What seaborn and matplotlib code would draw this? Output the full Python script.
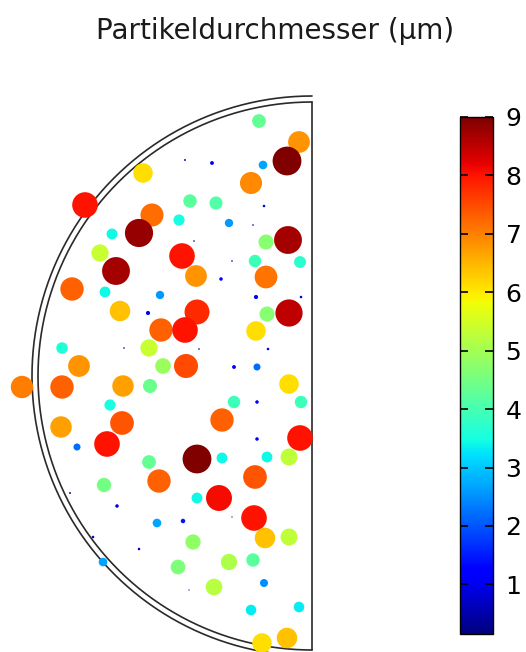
import numpy as np
import pandas as pd
import matplotlib
matplotlib.use('Agg')
import matplotlib.pyplot as plt
import seaborn as sns

# Partikel: Position im Bild (px) und Durchmesser (µm)
px = [143, 85, 152, 112, 139, 100, 116, 259, 299, 185, 212, 263, 287, 251, 190, 216, 264,
      179, 229, 253, 194, 266, 288, 182, 232, 255, 300, 196, 221, 266, 72, 105, 160, 256,
      301, 120, 148, 197, 267, 289, 161, 185, 256, 62, 124, 149, 199, 268, 79, 163, 186,
      234, 257, 22, 62, 123, 150, 289, 110, 234, 257, 301, 61, 122, 222, 77, 107, 257, 300,
      149, 197, 222, 267, 289, 104, 159, 255, 70, 117, 197, 219, 232, 254, 157, 183, 93,
      265, 289, 193, 139, 103, 178, 229, 253, 214, 189, 264, 251, 299, 262, 287]
py = [173, 205, 215, 234, 233, 253, 271, 121, 142, 160, 163, 165, 161, 183, 201, 203, 206,
      220, 223, 225, 241, 242, 240, 256, 261, 261, 262, 276, 279, 277, 289, 292, 295, 297,
      297, 311, 313, 312, 314, 313, 330, 330, 331, 348, 348, 348, 349, 349, 366, 366, 366,
      367, 367, 387, 387, 386, 386, 384, 405, 402, 402, 402, 427, 423, 420, 447, 444, 439, 438,
      462, 459, 458, 457, 457, 485, 481, 477, 493, 506, 498, 498, 517, 518, 523, 521, 537,
      538, 537, 542, 549, 562, 567, 562, 560, 587, 590, 583, 610, 607, 643, 638]
durchmesser = [6.1, 8.0, 7.2, 3.4, 8.8, 5.4, 8.7, 4.3, 6.8, 0.6, 1.2, 2.7, 9.0, 6.9, 4.2, 4.1, 0.8,
               3.5, 2.6, 0.5, 0.5, 4.7, 8.7, 8.0, 0.5, 3.9, 3.7, 6.8, 1.1, 7.1, 7.3, 3.4, 2.6, 1.3,
               0.8, 6.4, 1.3, 7.8, 4.7, 8.5, 7.3, 8.0, 6.1, 3.6, 0.5, 5.4, 0.5, 0.8, 6.8, 4.9, 7.5,
               1.2, 2.2, 7.0, 7.3, 6.7, 4.4, 6.1, 3.5, 3.9, 1.1, 3.9, 6.7, 7.4, 7.3, 2.2, 8.0, 1.1, 8.0,
               4.3, 9.0, 3.4, 3.4, 5.3, 4.5, 7.3, 7.4, 0.6, 1.1, 3.4, 8.1, 0.4, 8.0, 2.7, 1.4, 0.8,
               6.4, 5.3, 4.8, 0.8, 2.7, 4.6, 5.1, 4.2, 5.2, 0.4, 2.5, 3.3, 3.3, 6.1, 6.4]

# Mittelpunkt und Radien des Halbkreises (px)
mitte_x, mitte_y = 312, 376
r_innen, r_aussen = 274, 280
vmin, vmax = 0.15, 9
ticks = [1, 2, 3, 4, 5, 6, 7, 8, 9]

df = pd.DataFrame({'x': np.array(px) - mitte_x,
                   'y': mitte_y - np.array(py),
                   'd': durchmesser})

sns.set_style('white')
plt.rcParams['font.family'] = ['DejaVu Sans']
jet = matplotlib.colormaps['jet']

W, H = 526, 652
fig = plt.figure(figsize=(W / 100, H / 100), dpi=100)
ax = fig.add_axes([0, 0, 330 / W, 567 / H])
ax.set_xlim(-312, 18)
ax.set_ylim(-276, 291)
ax.axis('off')

# Doppelter Rand des Halbkreises
theta = np.linspace(np.pi / 2, 3 * np.pi / 2, 400)
for r in (r_innen, r_aussen):
    ax.plot(r * np.cos(theta), r * np.sin(theta), color='#2a2a2a', lw=1.2, zorder=1)
ax.plot([0, 0], [-r_innen, r_innen], color='#2a2a2a', lw=1.2, zorder=1)

# Partikel: Durchmesser ~ 3.2 px pro µm
groesse = (df['d'] * 3.2 * 0.72) ** 2
sns.scatterplot(data=df, x='x', y='y', hue='d', palette=jet, hue_norm=(vmin, vmax),
                s=groesse, linewidth=0, legend=False, ax=ax, zorder=3, clip_on=False)

# Farbskala
cax = fig.add_axes([460 / W, (H - 634) / H, 33 / W, 517 / H])
sm = plt.cm.ScalarMappable(cmap=jet, norm=plt.Normalize(vmin, vmax))
cb = fig.colorbar(sm, cax=cax, ticks=ticks)
cb.outline.set_linewidth(1)
cb.outline.set_edgecolor('black')
cb.solids.set_zorder(0.5)
cax.set_axisbelow(False)
cax.yaxis.set_ticks_position('both')
cax.tick_params(axis='y', which='major', direction='in', left=True, right=True,
                length=6, width=1.2, labelsize=18, pad=9, colors='black',
                labelleft=False, labelright=True)

fig.text(275 / W, (H - 39) / H, 'Partikeldurchmesser (µm)', ha='center', va='baseline',
         fontsize=20, color='#1a1a1a')

plt.savefig('out.png', dpi=100)
